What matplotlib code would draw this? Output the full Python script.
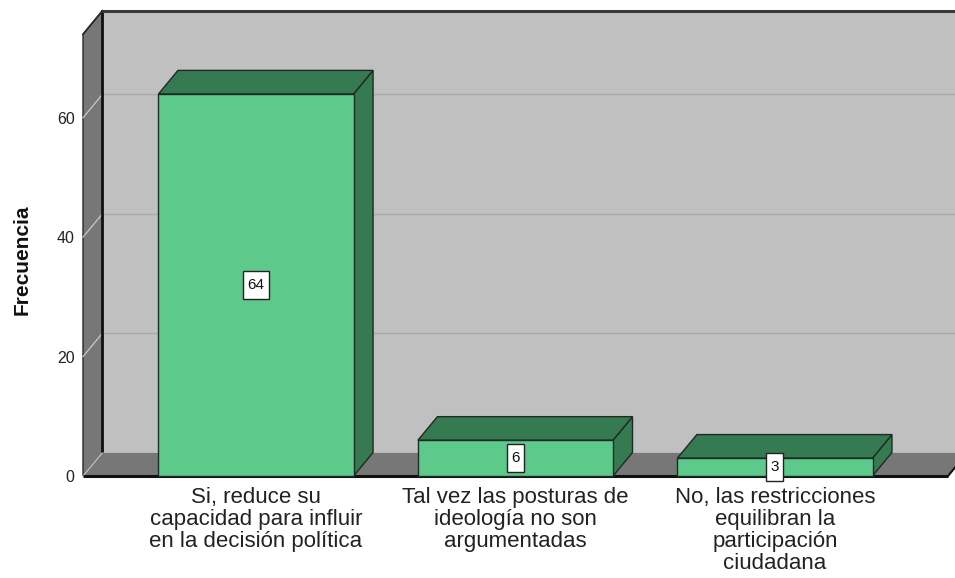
import matplotlib
matplotlib.use("Agg")
import matplotlib.pyplot as plt
from matplotlib.patches import Polygon, Rectangle
from matplotlib.path import Path

plt.rcParams['font.family'] = ['Liberation Sans', 'DejaVu Sans']

categories = [
    "Si, reduce su\ncapacidad para influir\nen la decisión política",
    "Tal vez las posturas de\nideología no son\nargumentadas",
    "No, las restricciones\nequilibran la\nparticipación\nciudadana",
]
values = [64, 6, 3]
yticks = [0, 20, 40, 60]
ylabel = "Frecuencia"

# style / geometry
YMAX = 74
XMIN, XMAX = -0.667, 2.667
BAR_W = 0.752
DX = 0.075      # depth offset in x data units
DY = 3.94       # depth offset in y data units
WALL_BACK = "#C0C0C0"
WALL_SIDE = "#777777"
BAR_FRONT = "#5DC98B"
BAR_DARK = "#367A52"
EDGE = "#1f2a22"

fig = plt.figure(figsize=(9.55, 5.78), dpi=100)
fig.patch.set_facecolor("white")
ax = fig.add_axes([83/955, 1 - 476/578, 865/955, YMAX*5.97/578])
ax.set_xlim(XMIN, XMAX)
ax.set_ylim(0, YMAX)
ax.patch.set_visible(False)
for s in ax.spines.values():
    s.set_visible(False)

def poly(pts, fc, ec=EDGE, lw=1.0, z=1):
    p = Polygon(pts, closed=True, facecolor=fc, edgecolor=ec, lw=lw,
                zorder=z, clip_on=False, joinstyle="miter")
    ax.add_patch(p)

def tallbox(x0, y0, width, height, mutation_size):
    px = 0.28 * mutation_size
    py = 0.48 * mutation_size
    xa, ya = x0 - px, y0 - py
    xb, yb = x0 + width + px, y0 + height + py
    return Path([(xa, ya), (xb, ya), (xb, yb), (xa, yb), (xa, ya)],
                closed=True)

# back wall
poly([(XMIN+DX, DY), (XMAX+DX, DY), (XMAX+DX, YMAX+DY), (XMIN+DX, YMAX+DY)],
     WALL_BACK, ec="none", z=0)
# back wall gridlines
for t in yticks[1:]:
    ax.plot([XMIN+DX, XMAX+DX], [t+DY, t+DY], color="#A9A9A9", lw=1.0,
            zorder=0.5, clip_on=False)
# left wall
poly([(XMIN, 0), (XMIN, YMAX), (XMIN+DX, YMAX+DY), (XMIN+DX, DY)],
     WALL_SIDE, ec="#2a2a2a", lw=1.0, z=1)
# floor
poly([(XMIN, 0), (XMAX, 0), (XMAX+DX, DY), (XMIN+DX, DY)],
     WALL_SIDE, ec="none", z=1)
# slanted gridlines on left wall / floor
for t in yticks:
    ax.plot([XMIN, XMIN+DX], [t, t+DY], color="#C8C8C8", lw=0.9,
            zorder=1.5, clip_on=False)
# heavy edges
ax.plot([XMIN+DX, XMIN+DX], [DY, YMAX+DY], color="#111111", lw=2.0,
        zorder=1.6, clip_on=False, solid_capstyle="butt")
ax.plot([XMIN+DX, XMAX+DX], [YMAX+DY, YMAX+DY], color="#3a3a3a", lw=2.2,
        zorder=1.6, clip_on=False)
ax.plot([XMIN, XMIN+DX], [YMAX, YMAX+DY], color="#2a2a2a", lw=1.2,
        zorder=1.6, clip_on=False)
ax.plot([XMIN, XMAX], [0, 0], color="#111111", lw=2.2, zorder=1.6,
        clip_on=False, solid_capstyle="butt")
ax.plot([XMAX, XMAX+DX], [0, DY], color="#111111", lw=1.5, zorder=1.6,
        clip_on=False)

# bars
for i, v in enumerate(values):
    x0 = i - BAR_W/2
    x1 = i + BAR_W/2
    # side
    poly([(x1, 0), (x1+DX, DY), (x1+DX, v+DY), (x1, v)], BAR_DARK, z=3)
    # top
    poly([(x0, v), (x1, v), (x1+DX, v+DY), (x0+DX, v+DY)], BAR_DARK, z=3)
    # front
    ax.add_patch(Rectangle((x0, 0), BAR_W, v, facecolor=BAR_FRONT,
                           edgecolor=EDGE, lw=1.0, zorder=4, clip_on=False))
    ax.text(i, v/2, str(v), ha="center", va="center", fontsize=11,
            color="#111111", zorder=6,
            bbox=dict(boxstyle=tallbox, facecolor="white",
                      edgecolor="#222222", lw=1.0))

# ticks
ax.set_yticks(yticks)
ax.set_yticklabels([str(t) for t in yticks])
ax.tick_params(axis="y", length=0, pad=6, labelsize=11.5, labelcolor="#222222")
ax.set_xticks(range(len(categories)))
ax.set_xticklabels(categories)
ax.tick_params(axis="x", length=0, pad=8, labelsize=16, labelcolor="#222222")
for lab in ax.get_xticklabels():
    lab.set_linespacing(1.07)

fig.text(22/955, 1 - 260/578, ylabel, rotation=90, ha="center", va="center",
         fontsize=15, fontweight="bold", color="#111111")

fig.savefig("out.png", dpi=100, facecolor="white")
